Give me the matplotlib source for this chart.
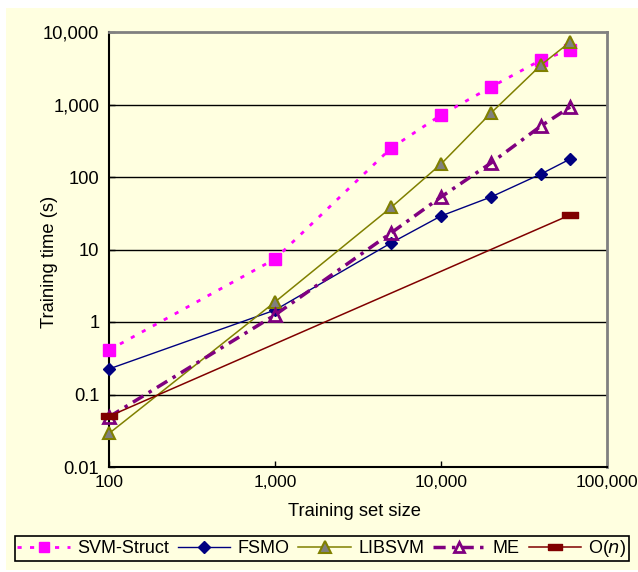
import matplotlib
matplotlib.use("Agg")
import matplotlib.pyplot as plt
from matplotlib.patches import Rectangle
from matplotlib.ticker import FixedLocator, FuncFormatter, NullLocator

plt.rcParams['font.family'] = ['Liberation Sans', 'DejaVu Sans']

# ---- data ----
sizes = [100, 1000, 5000, 10000, 20000, 40000, 60000]
svm_struct = [0.41, 7.4, 250, 715, 1740, 4100, 5650]
fsmo = [0.225, 1.46, 12.3, 29, 53, 110, 177]
libsvm = [0.029, 1.89, 38, 151, 763, 3500, 7300]
me = [0.049, 1.25, 16.9, 53, 156, 505, 925]
on_sizes = [100, 60000]
on_vals = [0.05, 30]
x_ticks = [100, 1000, 10000, 100000]
y_ticks = [0.01, 0.1, 1, 10, 100, 1000, 10000]

BG = '#FFFFE0'
W, H = 638, 572
fig = plt.figure(figsize=(W / 100, H / 100), dpi=100, facecolor='white')
fig.patches.append(Rectangle((6 / W, 2 / H), 632 / W, 562 / H,
                             transform=fig.transFigure, facecolor=BG,
                             edgecolor='none', zorder=-10))

ax = fig.add_axes([109 / W, 1 - 467 / H, (607 - 109) / W, (467 - 32) / H])
ax.set_facecolor(BG)
ax.set_xscale('log')
ax.set_yscale('log')
ax.set_xlim(100, 100000)
ax.set_ylim(0.01, 10000)

ax.xaxis.set_major_locator(FixedLocator(x_ticks))
ax.yaxis.set_major_locator(FixedLocator(y_ticks))
ax.xaxis.set_minor_locator(NullLocator())
ax.yaxis.set_minor_locator(NullLocator())


def fmt(v, pos):
    if v >= 1:
        return '{:,}'.format(int(round(v)))
    return ('%g' % v)


ax.xaxis.set_major_formatter(FuncFormatter(fmt))
ax.yaxis.set_major_formatter(FuncFormatter(fmt))
ax.tick_params(axis='both', which='major', direction='in', length=4,
               width=1, colors='black')
ax.tick_params(axis='x', pad=6, labelsize=12.5)
ax.tick_params(axis='y', pad=7, labelsize=13.2)

for yv in y_ticks[1:-1]:
    ax.axhline(yv, color='black', lw=1, zorder=1)

ax.spines['left'].set_color('black')
ax.spines['bottom'].set_color('black')
ax.spines['left'].set_linewidth(1.5)
ax.spines['bottom'].set_linewidth(1.5)
ax.spines['top'].set_color('#808080')
ax.spines['right'].set_color('#808080')
ax.spines['top'].set_linewidth(2)
ax.spines['right'].set_linewidth(2)

on_marker = [(-1, -0.38), (1, -0.38), (1, 0.38), (-1, 0.38), (-1, -0.38)]

ax.plot(sizes, svm_struct, color='#FF00FF', lw=2, ls=(0, (1.5, 3)),
        marker='s', ms=8, mfc='#FF00FF', mec='#FF00FF', label='SVM-Struct',
        zorder=3, clip_on=False)
ax.plot(sizes, fsmo, color='#000080', lw=1, marker='D', ms=6.5,
        mfc='#000080', mec='#000080', label='FSMO', zorder=4, clip_on=False)
ax.plot(sizes, libsvm, color='#808000', lw=1.1, marker='^', ms=9,
        mfc='#808080', mec='#808000', mew=1.5, label='LIBSVM', zorder=5,
        clip_on=False)
ax.plot(sizes, me, color='#800080', lw=2.5, ls=(0, (3.5, 1.8, 1, 1.8)),
        marker='^', ms=8.5, mfc='none', mec='#800080', mew=2, label='ME',
        zorder=6, clip_on=False)
ax.plot(on_sizes, on_vals, color='#800000', lw=1.1, marker=on_marker, ms=11,
        mfc='#800000', mec='#800000', label='O($n$)', zorder=7, clip_on=False)

ax.set_xlabel('Training set size', fontsize=13.2)
ax.xaxis.label.set_va('center')
ax.xaxis.set_label_coords((354 - 109) / 498, -(512 - 467) / 435)
ax.set_ylabel('Training time (s)', fontsize=13.2)
ax.yaxis.label.set_va('center')
ax.yaxis.set_label_coords((49 - 109) / 498, (467 - 262) / 435)

leg = fig.legend(loc='center', bbox_to_anchor=(322 / W, 1 - 548.5 / H),
                 ncol=5, fontsize=13, frameon=True, fancybox=False,
                 handlelength=2.9, handletextpad=0.4, columnspacing=0.5,
                 borderpad=0.12, borderaxespad=0, markerscale=0.9)
leg.get_frame().set_edgecolor('black')
leg.get_frame().set_facecolor(BG)
leg.get_frame().set_linewidth(1.2)
leg.get_frame().set_alpha(1)

fig.savefig('out.png', dpi=100, facecolor='white')
